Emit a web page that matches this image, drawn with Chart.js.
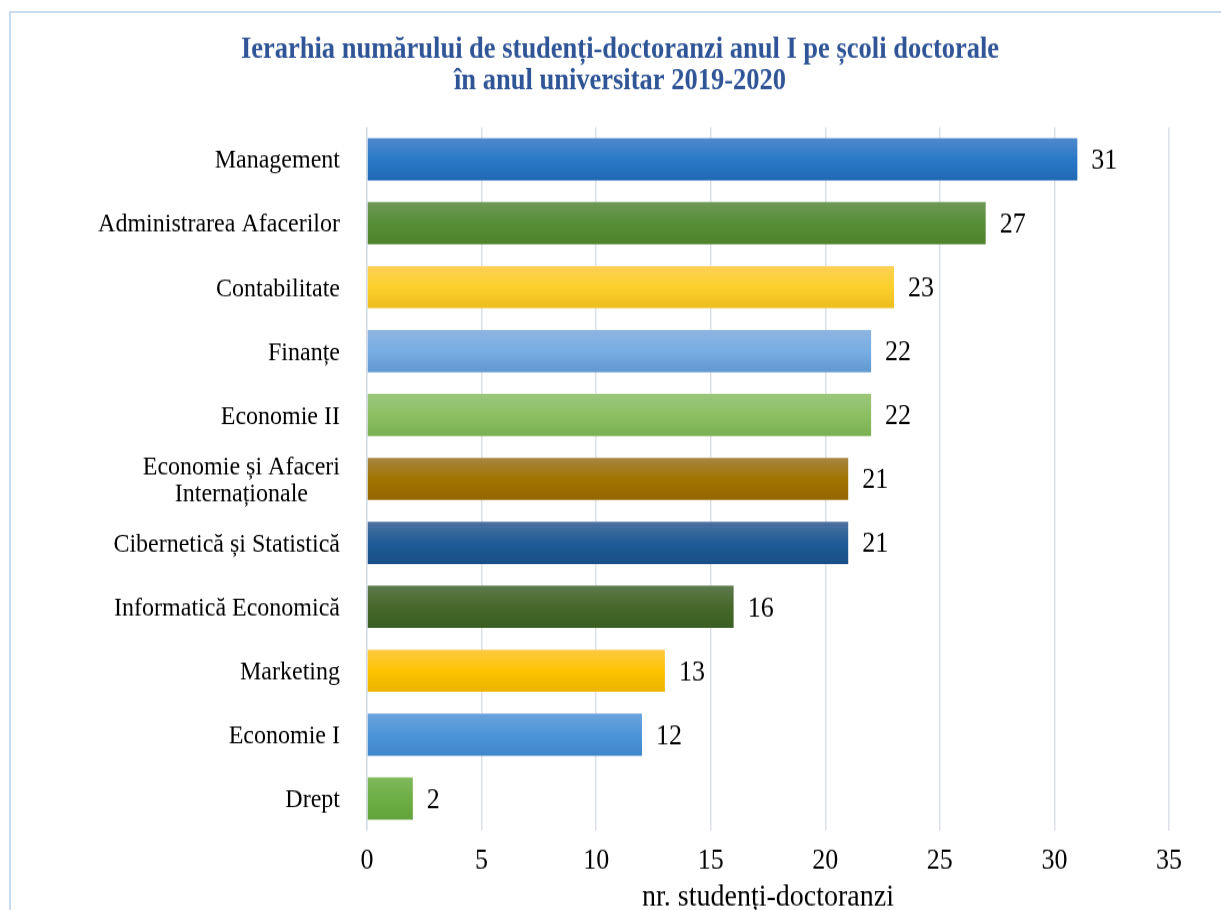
<!DOCTYPE html>
<html>
<head>
<meta charset="utf-8">
<script src="https://cdn.jsdelivr.net/npm/chart.js@4.4.0/dist/chart.umd.min.js"></script>
<style>
  html, body { margin: 0; padding: 0; background: #ffffff; overflow: hidden; }
  #frame {
    position: absolute;
    left: 9px;
    top: 11px;
    width: 1220px;
    height: 920px;
    border-left: 2px solid #c9dcef;
    border-top: 2px solid #c9dcef;
  }
  /* chart is laid out a bit shorter, then stretched to full height */
  #stretch {
    transform: scaleY(1.12);
    transform-origin: 0 0;
  }
  #chart { display: block; }
</style>
</head>
<body>
<div id="frame">
  <div id="stretch">
    <canvas id="chart" width="1220" height="830"></canvas>
  </div>
</div>
<script>
// ===== DATA =====
const schools = [
    'Management',
    'Administrarea Afacerilor',
    'Contabilitate',
    'Finanțe',
    'Economie II',
    ['Economie și Afaceri', 'Internaționale'],
    'Cibernetică și Statistică',
    'Informatică Economică',
    'Marketing',
    'Economie I',
    'Drept'
];
const students = [31, 27, 23, 22, 22, 21, 21, 16, 13, 12, 2];
const xTicks = [0, 5, 10, 15, 20, 25, 30, 35];
const titleLines = [
    'Ierarhia numărului de studenți-doctoranzi anul I pe școli doctorale',
    'în anul universitar 2019-2020'
];

// top / middle / bottom shade for every bar
const barShades = [
    ['#5089cc', '#2a7ac8', '#2068b4'],
    ['#6f9857', '#578f37', '#4e832b'],
    ['#fcd055', '#fdd02c', '#ecbd1d'],
    ['#8db5e1', '#78aee3', '#5f98d0'],
    ['#9cc67c', '#8cc063', '#79b052'],
    ['#a88444', '#a07500', '#946800'],
    ['#4d72a0', '#1f5c98', '#184f86'],
    ['#5e7a4c', '#46682b', '#3a5e21'],
    ['#fec944', '#fdc400', '#ecb400'],
    ['#6aa3dc', '#4d95d9', '#3f86cc'],
    ['#80b95c', '#6eaf45', '#62a23a']
];

const BAR_PCT = 0.66;
const SERIF = "'Liberation Serif', 'Times New Roman', serif";

// ===== HELPERS =====

// vertical gradient for one bar, built from the category band of the y scale
function bar_gradient(context) {
    const chart = context.chart;
    const yScale = chart.scales.y;
    const shades = barShades[context.dataIndex];
    if (!yScale) return shades[1];
    const center = yScale.getPixelForValue(context.dataIndex);
    const half = (yScale.height / schools.length) * BAR_PCT / 2;
    if (!Number.isFinite(center) || !Number.isFinite(half) || half <= 0) return shades[1];
    const g = chart.ctx.createLinearGradient(0, center - half, 0, center + half);
    g.addColorStop(0, shades[0]);
    g.addColorStop(0.5, shades[1]);
    g.addColorStop(1, shades[2]);
    return g;
}

// two-line bold title, centred on the whole canvas
const chartTitle = {
    id: 'chartTitle',
    afterDraw(chart) {
        const ctx = chart.ctx;
        const cx = chart.width / 2 - 1;
        ctx.save();
        ctx.font = 'bold 26.5px ' + SERIF;
        ctx.fillStyle = '#2f5597';
        ctx.textAlign = 'center';
        ctx.textBaseline = 'alphabetic';
        ctx.fillText(titleLines[0], cx, 39.5);
        ctx.fillText(titleLines[1], cx, 67.5);
        ctx.restore();
    }
};

// category names on the left, multi-line names centred on their widest line
const categoryLabels = {
    id: 'categoryLabels',
    afterDraw(chart) {
        const ctx = chart.ctx;
        const yScale = chart.scales.y;
        const right = chart.chartArea.left - 27;
        const lineH = 23.5;
        ctx.save();
        ctx.font = '24px ' + SERIF;
        ctx.fillStyle = '#000000';
        ctx.textBaseline = 'middle';
        ctx.textAlign = 'center';
        schools.forEach((name, i) => {
            const lines = Array.isArray(name) ? name : [name];
            const y = yScale.getPixelForValue(i) + 1.5;
            const widest = Math.max(...lines.map(l => ctx.measureText(l).width));
            const cx = right - widest / 2;
            lines.forEach((line, k) => {
                const ly = y + (k - (lines.length - 1) / 2) * lineH;
                ctx.fillText(line, cx, ly);
            });
        });
        ctx.restore();
    }
};

// value written just past the end of each bar
const valueLabels = {
    id: 'valueLabels',
    afterDatasetsDraw(chart) {
        const ctx = chart.ctx;
        const meta = chart.getDatasetMeta(0);
        ctx.save();
        ctx.font = '26px ' + SERIF;
        ctx.fillStyle = '#000000';
        ctx.textAlign = 'left';
        ctx.textBaseline = 'middle';
        meta.data.forEach((bar, i) => {
            ctx.fillText(String(students[i]), bar.x + 14, bar.y + 1.5);
        });
        ctx.restore();
    }
};

// ===== CHART =====
const ctx = document.getElementById('chart').getContext('2d');

new Chart(ctx, {
    type: 'bar',
    data: {
        labels: schools,
        datasets: [{
            data: students,
            backgroundColor: bar_gradient,
            borderWidth: 0,
            barPercentage: BAR_PCT,
            categoryPercentage: 1.0
        }]
    },
    options: {
        indexAxis: 'y',
        responsive: false,
        animation: false,
        layout: {
            padding: { top: 102, right: 62, bottom: 20, left: 0 }
        },
        scales: {
            x: {
                min: 0,
                max: 35,
                afterBuildTicks: (scale) => {
                    scale.ticks = xTicks.map(v => ({ value: v }));
                },
                afterFit: (scale) => { scale.height = 80; },
                border: { display: false },
                grid: {
                    color: (c) => c.tick && c.tick.value === 0 ? '#cdd8e4' : '#dde2e8',
                    lineWidth: 1.5,
                    drawTicks: false
                },
                ticks: {
                    padding: 12,
                    color: '#000000',
                    font: { family: SERIF, size: 26 }
                },
                title: {
                    display: true,
                    text: 'nr. studenți-doctoranzi',
                    color: '#000000',
                    font: { family: SERIF, size: 28 },
                    padding: { top: 0, bottom: 4 }
                }
            },
            y: {
                afterFit: (scale) => { scale.width = 356; },
                border: { display: false },
                grid: { display: false },
                ticks: { display: false }
            }
        },
        plugins: {
            legend: { display: false },
            tooltip: { enabled: false },
            title: { display: false }
        }
    },
    plugins: [chartTitle, categoryLabels, valueLabels]
});
</script>
</body>
</html>
